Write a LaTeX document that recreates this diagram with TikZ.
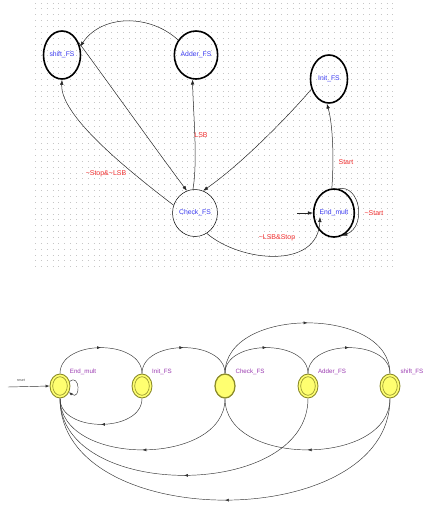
\documentclass[tikz,border=0pt]{standalone}
\usepackage{fontspec}
\setmainfont{Liberation Sans}
\usetikzlibrary{shapes.geometric,arrows.meta,decorations.markings}
\definecolor{stblue}{HTML}{3A3AF0}
\definecolor{condred}{HTML}{F03030}
\definecolor{olivering}{HTML}{8C8C2A}
\definecolor{yel}{HTML}{FFFF70}
\definecolor{purp}{HTML}{9A3AB0}
\begin{document}
\begin{tikzpicture}[x=1pt,y=-1pt,
  tip/.style={-{Latex[length=5pt,width=3.6pt]}},
  topst/.style={ellipse, draw, line width=1.6pt, inner sep=0pt, font=\fontsize{6.8}{8}\selectfont, text=stblue, minimum width=37pt, minimum height=48pt},
  condlab/.style={font=\fontsize{7}{8}\selectfont, text=condred, inner sep=0pt},
  tedge/.style={draw=black!85, line width=0.5pt},
  botst/.style={ellipse, draw=olivering, fill=yel, line width=0.9pt, minimum width=20pt, minimum height=24pt, inner sep=0pt},
  blab/.style={font=\fontsize{6.2}{7}\selectfont, text=purp, inner sep=0pt},
  bedge/.style={draw=black!80, line width=0.45pt},
  midarrow/.style={postaction={decorate}, decoration={markings, mark=at position 0.5 with {\arrow{Latex[length=4pt,width=3pt]}}}}
]
\useasboundingbox (0,0) rectangle (428,512);
% dotted grid
\foreach \r in {0,...,45}
  \draw[gray!45, line width=0.75pt, dash pattern=on 0.75pt off 5.11pt] (35,3+\r*5.86) -- (396,3+\r*5.86);

% ---------- top state machine ----------
\node[topst] (shift) at (62,55) {shift\_FS};
\node[topst] (adder) at (196,55) {Adder\_FS};
\node[topst] (init) at (329,79) {Init\_FS};
\node[topst, line width=0.5pt, minimum height=47pt] (check) at (195,213) {Check\_FS};
\node[topst] (endm) at (334,213) {End\_mult};

\coordinate (rsttop) at (297,213);
\coordinate (endin) at (320,217);

\draw[tedge, tip] (adder.140) .. controls (150,14) and (102,14) .. (shift.25);
\draw[tedge, tip] (check.95) .. controls (198,160) and (193,110) .. (adder.262);
\draw[tedge, tip] (shift.38) .. controls (110,85) and (160,155) .. (check.110);
\draw[tedge, tip] (check.160) .. controls (125,168) and (60,115) .. (shift.270);
\draw[tedge, tip] (init.210) .. controls (285,120) and (240,165) .. (check.70);
\draw[tedge, tip] (endm.95) .. controls (334,160) and (333,125) .. (init.265);
\draw[tedge, tip] (check.300) .. controls (240,262) and (318,270) .. (endin);
\draw[tedge, tip] (endm.80) .. controls (360,184) and (367,226) .. (endm.290);
\draw[tedge, tip] (rsttop) -- (endm.west);

\node[condlab] (lsb) at (201,135) {LSB};
\node[condlab] (nstop) at (106,174) {\textasciitilde Stop\&\textasciitilde LSB};
\node[condlab] (start) at (346,162) {Start};
\node[condlab] (nstart) at (374,213) {\textasciitilde Start};
\node[condlab] (lsbstop) at (277,238) {\textasciitilde LSB\&Stop};

% ---------- bottom state diagram ----------
\node[botst] (bend) at (60,386) {};
\node[botst] (binit) at (142,386) {};
\node[botst, line width=1.3pt] (bcheck) at (225,386) {};
\node[botst] (badder) at (308,386) {};
\node[botst] (bshift) at (390,386) {};
\foreach \n in {bend,binit,badder,bshift}
  \draw[olivering, line width=0.6pt] (\n.center) ellipse (7.3 and 9.3);

\node[blab] (lend) at (83,372) {End\_mult};
\node[blab] (linit) at (162,372) {Init\_FS};
\node[blab] (lcheck) at (250,372) {Check\_FS};
\node[blab] (ladder) at (332,372) {Adder\_FS};
\node[blab] (lshift) at (412,372) {shift\_FS};

\node[font=\fontsize{3.6}{4}\selectfont, text=black!70, inner sep=0pt] (rst) at (21,380) {reset};
\coordinate (rsb) at (8,387);
\draw[bedge, -{Latex[length=4pt,width=3pt]}] (rsb) -- (bend.west);

% top arcs
\draw[bedge, midarrow] (bend.north) .. controls (60,339) and (142,339) .. (binit.north);
\draw[bedge, midarrow] (binit.north) .. controls (142,339) and (225,339) .. (bcheck.north);
\draw[bedge, midarrow] (bcheck.north) .. controls (225,339) and (308,339) .. (badder.north);
\draw[bedge, midarrow] (badder.north) .. controls (308,339) and (390,339) .. (bshift.north);
\draw[bedge, midarrow] (bcheck.north) .. controls (225,306) and (390,306) .. (bshift.north);
% bottom arcs
\draw[bedge, midarrow] (binit.south) .. controls (142,433) and (60,433) .. (bend.south);
\draw[bedge, midarrow] (bcheck.south) .. controls (225,467) and (60,467) .. (bend.south);
\draw[bedge, midarrow] (badder.south) .. controls (308,501) and (60,501) .. (bend.south);
\draw[bedge, midarrow] (bshift.south) .. controls (390,534) and (60,534) .. (bend.south);
\draw[bedge, midarrow] (bshift.south) .. controls (390,467) and (225,467) .. (bcheck.south);
% self loop
\draw[bedge, -{Latex[length=3.5pt,width=2.8pt]}] (bend.25) .. controls (80,373) and (81,401) .. (bend.-35);
\end{tikzpicture}
\end{document}
